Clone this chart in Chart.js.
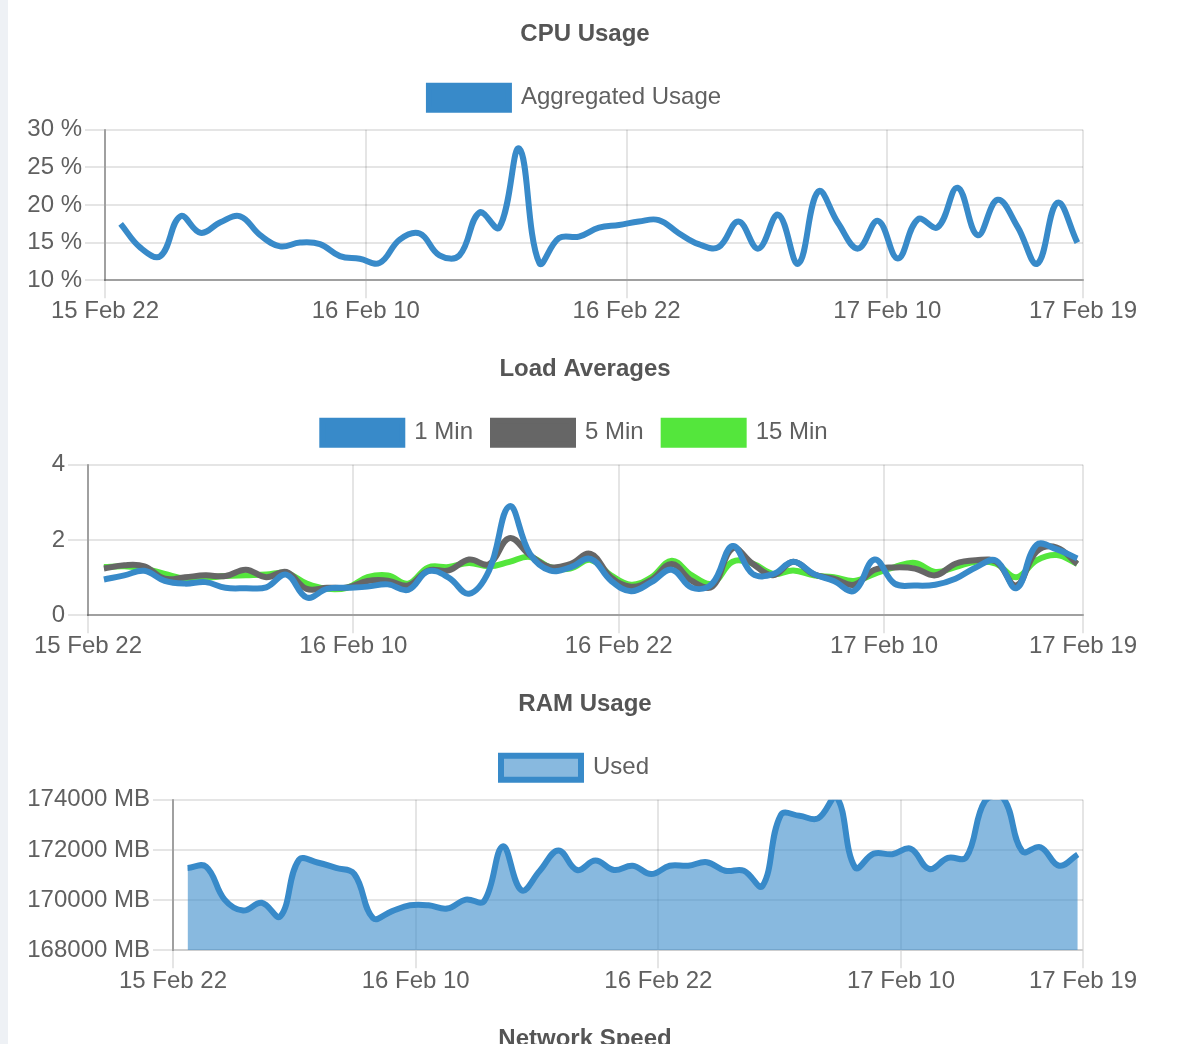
<!DOCTYPE html>
<html>
<head>
<meta charset="utf-8">
<title>Server stats</title>
<script src="https://cdn.jsdelivr.net/npm/chart.js@4.4.1/dist/chart.umd.min.js"></script>
<style>
  html, body { margin: 0; padding: 0; background: #fff; overflow: hidden; }
  body { border-left: 8px solid #eef1f5; min-height: 1044px; }
  .box { position: relative; width: 1154px; height: 335px; }
</style>
</head>
<body>
<div class="box"><canvas id="cpuChart"></canvas></div>
<div class="box"><canvas id="loadChart"></canvas></div>
<div class="box"><canvas id="ramChart"></canvas></div>
<div class="box"><canvas id="netChart"></canvas></div>
<script>
// sample times, hours after 15 Feb 22:00
var times = [0.72, 1.64, 2.55, 3.47, 4.39, 5.31, 6.22, 7.14, 8.06, 8.97,
  9.89, 10.81, 11.72, 12.64, 13.56, 14.48, 15.39, 16.31, 17.23, 18.14,
  19.06, 19.98, 20.89, 21.81, 22.73, 23.65, 24.56, 25.48, 26.40, 27.31,
  28.23, 29.15, 30.06, 30.98, 31.90, 32.82, 33.73, 34.65, 35.57, 36.48,
  37.40, 38.32, 39.23, 40.15, 41.07, 41.99, 42.90, 43.82, 44.74];

var tickHours = [0, 12, 24, 36, 45];
var tickLabels = ['15 Feb 22', '16 Feb 10', '16 Feb 22', '17 Feb 10', '17 Feb 19'];

var cpuUsage = [17.5, 14.3, 13.2, 18.5, 16.3, 17.7, 18.5, 16.0, 14.5, 15.0,
  14.8, 13.2, 12.85, 12.3, 15.4, 16.2, 13.3, 13.3, 19.0, 17.0,
  27.5, 12.3, 15.6, 15.8, 17.0, 17.35, 17.8, 18.0, 16.25, 14.8,
  14.4, 17.8, 14.2, 18.7, 12.2, 21.8, 17.6, 14.2, 17.9, 12.9,
  18.1, 17.05, 22.3, 16.0, 20.7, 17.1, 12.2, 20.3, 15.0];

var load1 = [0.95, 1.06, 1.18, 0.91, 0.84, 0.88, 0.73, 0.72, 0.74, 1.08,
  0.47, 0.70, 0.73, 0.76, 0.82, 0.67, 1.17, 1.00, 0.57, 1.19,
  2.90, 1.64, 1.19, 1.27, 1.50, 0.92, 0.64, 0.88, 1.21, 0.73,
  0.84, 1.84, 1.10, 1.09, 1.42, 1.10, 0.91, 0.65, 1.48, 0.84,
  0.79, 0.81, 0.97, 1.27, 1.45, 0.72, 1.87, 1.75, 1.51];

var load5 = [1.24, 1.33, 1.30, 0.97, 1.01, 1.06, 1.04, 1.21, 1.01, 1.15,
  0.70, 0.73, 0.74, 0.91, 0.92, 0.79, 1.19, 1.19, 1.48, 1.36,
  2.05, 1.60, 1.28, 1.36, 1.63, 1.01, 0.76, 0.94, 1.36, 0.91,
  0.76, 1.78, 1.37, 1.06, 1.42, 1.09, 0.97, 0.81, 1.21, 1.27,
  1.24, 1.06, 1.37, 1.46, 1.42, 0.79, 1.69, 1.80, 1.36];

var load15 = [1.28, 1.30, 1.24, 1.10, 0.97, 0.99, 1.04, 1.06, 1.08, 1.12,
  0.84, 0.70, 0.73, 1.01, 1.06, 0.84, 1.27, 1.28, 1.39, 1.30,
  1.42, 1.55, 1.28, 1.24, 1.47, 1.06, 0.81, 1.01, 1.45, 1.06,
  0.84, 1.42, 1.37, 1.10, 1.19, 1.06, 1.01, 0.91, 1.10, 1.28,
  1.39, 1.15, 1.28, 1.42, 1.37, 1.01, 1.46, 1.60, 1.37];

var ramUsed = [171280, 171330, 170020, 169580, 169890, 169350, 171600, 171500, 171280, 171035,
  169280, 169550, 169790, 169790, 169660, 170020, 169960, 172140, 170390, 171170,
  171980, 171200, 171575, 171200, 171370, 171035, 171370, 171370, 171510, 171170,
  171170, 170560, 173400, 173360, 173260, 174100, 171300, 171850, 171830, 172050,
  171240, 171680, 171710, 173950, 174050, 171950, 172110, 171370, 171820];

Chart.defaults.font.family = "'Liberation Sans', Arial, sans-serif";
Chart.defaults.font.size = 24;
Chart.defaults.color = '#606060';

var blue = 'rgb(56, 138, 201)';
var gray = 'rgb(102, 102, 102)';
var green = 'rgb(84, 230, 60)';
var gridColor = 'rgba(0, 0, 0, 0.1)';
var axisColor = 'rgba(0, 0, 0, 0.3)';

function points(values) {
  return times.map(function (t, i) { return {x: t, y: values[i]}; });
}

function line(label, values, color, fillColor) {
  return {
    label: label,
    data: points(values),
    borderColor: color,
    backgroundColor: fillColor || color,
    borderWidth: 6,
    fill: fillColor ? 'start' : false,
    tension: 0.4,
    pointRadius: 0,
    pointHoverRadius: 0
  };
}

// old dashboards leave a gap under the legend and sit it a bit left
var legendNudge = {
  id: 'legendNudge',
  beforeLayout: function (chart) {
    var lg = chart.legend;
    if (lg && !lg._nudged) {
      var fit = lg.fit;
      lg.fit = function () { fit.call(this); this.height += 10; };
      lg._nudged = true;
    }
  },
  afterLayout: function (chart) {
    var lg = chart.legend;
    if (lg) { lg.left -= 10; lg.right -= 10; }
  }
};

function generateChart(id, title, datasets, y) {
  var ctx = document.getElementById(id).getContext('2d');
  return new Chart(ctx, {
    type: 'line',
    data: { datasets: datasets },
    plugins: [legendNudge],
    options: {
      animation: false,
      responsive: true,
      maintainAspectRatio: false,
      events: [],
      layout: { padding: { bottom: 10 } },
      plugins: {
        title: {
          display: true,
          text: title,
          color: '#555',
          font: { size: 24, weight: 'bold' },
          padding: { top: 20, bottom: 17 }
        },
        legend: {
          labels: { boxWidth: 80, boxHeight: 24, padding: 20, font: { size: 24 } }
        },
        tooltip: { enabled: false }
      },
      scales: {
        x: {
          type: 'linear',
          min: 0,
          max: 45,
          afterBuildTicks: function (scale) {
            scale.ticks = tickHours.map(function (h) { return {value: h}; });
          },
          afterFit: function (scale) { scale.paddingRight = 79; },
          ticks: {
            autoSkip: false,
            maxRotation: 0,
            padding: -1,
            callback: function (v, i) { return tickLabels[i]; }
          },
          grid: { color: gridColor, lineWidth: 2, tickLength: 18 },
          border: { color: y.xBorder, width: 2 }
        },
        y: {
          min: y.min,
          max: y.max,
          afterFit: function (scale) { scale.width = y.width; },
          ticks: {
            stepSize: y.step,
            padding: 3,
            callback: function (v) { return v + y.suffix; }
          },
          grid: { color: gridColor, lineWidth: 2, tickLength: 20 },
          border: { color: axisColor, width: 2 }
        }
      }
    }
  });
}

generateChart('cpuChart', 'CPU Usage', [
  line('Aggregated Usage', cpuUsage, blue)
], { min: 10, max: 30, step: 5, suffix: ' %', width: 97, xBorder: axisColor });

generateChart('loadChart', 'Load Averages', [
  line('1 Min', load1, blue),
  line('5 Min', load5, gray),
  line('15 Min', load15, green)
], { min: 0, max: 4, step: 2, suffix: '', width: 80, xBorder: axisColor });

generateChart('ramChart', 'RAM Usage', [
  line('Used', ramUsed, blue, 'rgba(56, 138, 201, 0.6)')
], { min: 168000, max: 174000, step: 2000, suffix: ' MB', width: 165, xBorder: gridColor });

new Chart(document.getElementById('netChart').getContext('2d'), {
  type: 'line',
  data: { datasets: [] },
  options: {
    animation: false,
    responsive: true,
    maintainAspectRatio: false,
    events: [],
    plugins: {
      title: {
        display: true,
        text: 'Network Speed',
        color: '#555',
        font: { size: 24, weight: 'bold' },
        padding: { top: 20, bottom: 17 }
      },
      legend: { display: false }
    },
    scales: { x: { display: false }, y: { display: false } }
  }
});
</script>
</body>
</html>
